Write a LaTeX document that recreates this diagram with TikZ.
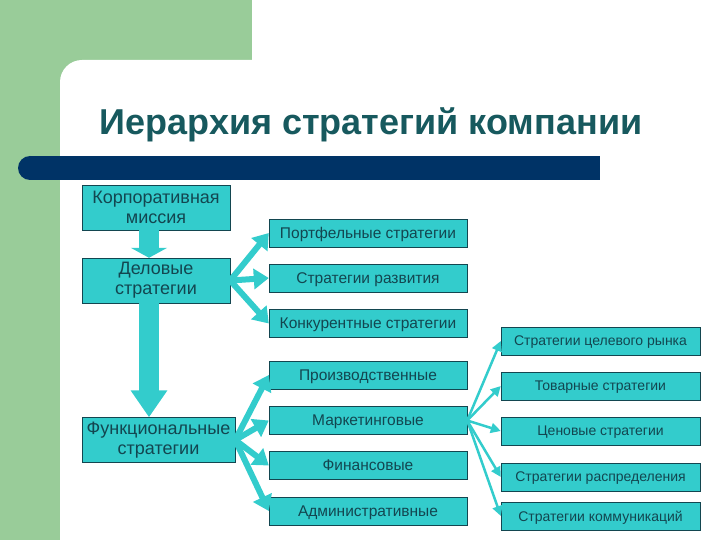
\documentclass[tikz,border=0pt]{standalone}
\usepackage{fontspec}
\setmainfont{Liberation Sans}
\usetikzlibrary{arrows.meta, positioning}
\definecolor{mygreen}{HTML}{99CC99}
\definecolor{mynavy}{HTML}{003366}
\definecolor{myteal}{HTML}{33CCCC}
\definecolor{mytext}{HTML}{134650}
\definecolor{mytitle}{HTML}{17595E}
\tikzset{
	boxnode/.style={
			draw=mytext,
			fill=myteal,
			text=mytext,
			inner sep=0pt,
			align=center
		},
	bignode/.style={
			boxnode,
			minimum width=148pt,
			minimum height=45pt,
			font=\fontsize{18}{20}\selectfont
		},
	midnode/.style={
			boxnode,
			minimum width=198pt,
			minimum height=28pt,
			text depth=0pt,
			font=\fontsize{15.5}{17}\selectfont
		},
	rightnode/.style={
			boxnode,
			minimum width=199pt,
			minimum height=28pt,
			text depth=0pt,
			font=\fontsize{14}{16}\selectfont
		},
	blockarrow/.style={
			draw=myteal,
			line width=20pt
		},
	fanarrow/.style={
			draw=myteal,
			line width=6pt,
			-{Triangle[width=20pt,length=15pt]}
		},
	thinarrow/.style={
			draw=myteal,
			line width=2.5pt,
			-{Triangle[width=10pt,length=10pt]}
		}
}

\begin{document}
\begin{tikzpicture}[x=1pt, y=-1pt]
\useasboundingbox (0,0) rectangle (720,540);
% background
\fill[mygreen] (0,0) rectangle (252,60);
\fill[mygreen] (0,0) rectangle (60,540);
\fill[mygreen] (0,0) rectangle (90,90);
\fill[white, rounded corners=22pt] (60,60) rectangle (320,320);
\fill[mynavy] (30,156) rectangle (600,180);
\fill[mynavy] (30,168) circle (12pt);
\node[anchor=base, text=mytitle, font=\fontsize{36}{40}\selectfont\bfseries] (title) at (371,135) {Иерархия стратегий компании};

\node[bignode] (corp) at (156,207.5) {Корпоративная\\миссия};
\node[bignode] (biz) at (156,280.5) {Деловые\\стратегии};
\node[bignode, minimum width=153pt] (func) at (158.5,440) {Функциональные\\стратегии};

\node[midnode] (port) at (368,233) {Портфельные стратегии};
\node[midnode] (dev) at (368,278) {Стратегии развития};
\node[midnode] (comp) at (368,323.5) {Конкурентные стратегии};
\node[midnode] (prod) at (368,375) {Производственные};
\node[midnode] (mark) at (368,420.5) {Маркетинговые};
\node[midnode] (fin) at (368,465.5) {Финансовые};
\node[midnode] (adm) at (368,511) {Административные};

\node[rightnode] (target) at (600.5,341) {Стратегии целевого рынка};
\node[rightnode] (goods) at (600.5,386) {Товарные стратегии};
\node[rightnode] (price) at (600.5,431) {Ценовые стратегии};
\node[rightnode] (distr) at (600.5,477) {Стратегии распределения};
\node[rightnode] (comm) at (600.5,516) {Стратегии коммуникаций};

\draw[blockarrow, -{Triangle[width=36pt,length=10pt]}] ([xshift=-7pt]corp.south) -- ([xshift=-7pt]biz.north);
\draw[blockarrow, -{Triangle[width=35pt,length=27pt]}] ([xshift=-7pt]biz.south) -- ([xshift=-9.5pt]func.north);

\draw[fanarrow] (biz.east) -- (port.west);
\draw[fanarrow] (biz.east) -- (dev.west);
\draw[fanarrow] (biz.east) -- (comp.west);

\draw[fanarrow] (func.east) -- (prod.west);
\draw[fanarrow] (func.east) -- (mark.west);
\draw[fanarrow] (func.east) -- (fin.west);
\draw[fanarrow] (func.east) -- (adm.west);

\draw[thinarrow] (mark.east) -- (target.west);
\draw[thinarrow] (mark.east) -- (goods.west);
\draw[thinarrow] (mark.east) -- (price.west);
\draw[thinarrow] (mark.east) -- (distr.west);
\draw[thinarrow] (mark.east) -- (comm.west);
\end{tikzpicture}
\end{document}
